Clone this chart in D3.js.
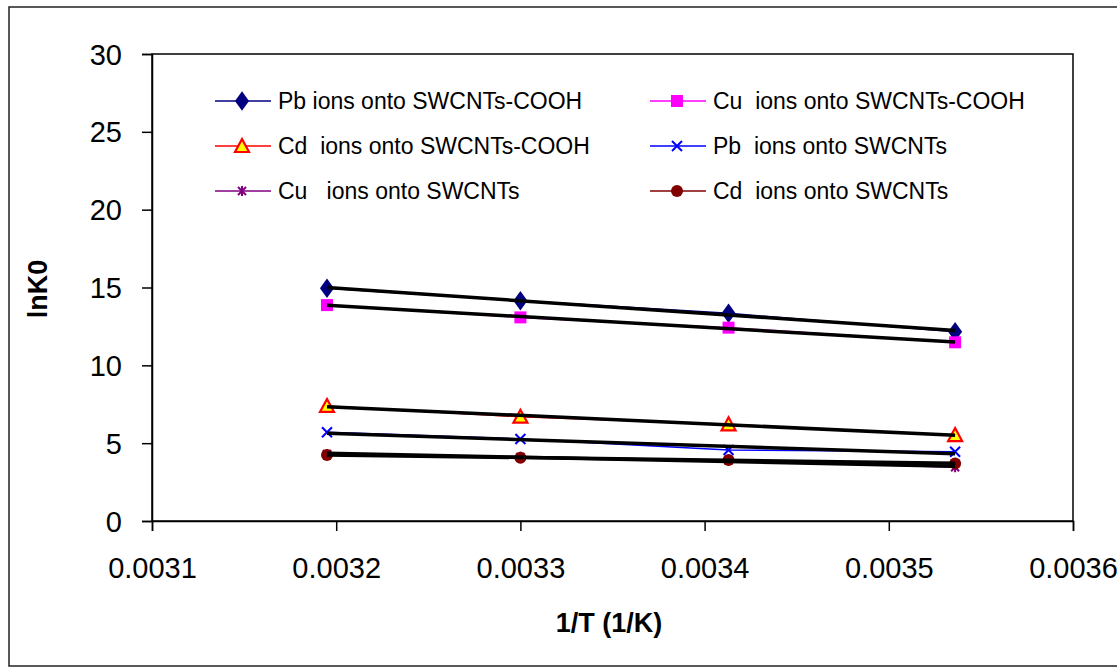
<!DOCTYPE html>
<html>
<head>
<meta charset="utf-8">
<script src="https://d3js.org/d3.v7.min.js"></script>
<style>
    body { margin: 0; background: #fff; }
    text { font-family: "Liberation Sans", Arial, sans-serif; }
</style>
</head>
<body>
<svg id="chart" width="1117" height="667"></svg>
<script>
    // data
    var invT = [0.003195, 0.0033, 0.003413, 0.003536];
    var pbCooh = [14.95, 14.15, 13.34, 12.16];
    var cuCooh = [13.87, 13.08, 12.42, 11.48];
    var cdCooh = [7.39, 6.70, 6.21, 5.52];
    var pbSw = [5.70, 5.27, 4.56, 4.45];
    var cuSw = [4.30, 4.12, 3.90, 3.45];
    var cdSw = [4.24, 4.07, 3.92, 3.70];
    var xTicks = [0.0031, 0.0032, 0.0033, 0.0034, 0.0035, 0.0036];
    var yTicks = [0, 5, 10, 15, 20, 25, 30];

    var series = [
        {name: "Pb ions onto SWCNTs-COOH", values: pbCooh, color: "#000080", marker: "diamond", col: 0, row: 0},
        {name: "Cu  ions onto SWCNTs-COOH", values: cuCooh, color: "#ff00ff", marker: "square", col: 1, row: 0},
        {name: "Cd  ions onto SWCNTs-COOH", values: cdCooh, color: "#ff0000", marker: "triangle", col: 0, row: 1},
        {name: "Pb  ions onto SWCNTs", values: pbSw, color: "#0000ff", marker: "x", col: 1, row: 1},
        {name: "Cu   ions onto SWCNTs", values: cuSw, color: "#800080", marker: "star", col: 0, row: 2},
        {name: "Cd  ions onto SWCNTs", values: cdSw, color: "#800000", marker: "circle", col: 1, row: 2}
    ];

    var svg = d3.select("#chart");
    var margin = {left: 152, top: 54, right: 1073, bottom: 521};

    var x = d3.scaleLinear().domain([0.0031, 0.0036]).range([margin.left, margin.right]);
    var y = d3.scaleLinear().domain([0, 30]).range([margin.bottom, margin.top]);

    // outer chart frame
    svg.append("rect").attr("x", 9).attr("y", 7).attr("width", 1120).attr("height", 659)
        .attr("fill", "none").attr("stroke", "#222").attr("stroke-width", 1.5);

    // plot frame
    svg.append("rect").attr("x", margin.left).attr("y", margin.top)
        .attr("width", margin.right - margin.left).attr("height", margin.bottom - margin.top)
        .attr("fill", "none").attr("stroke", "#000").attr("stroke-width", 1.5);

    var yAxis = svg.append("g")
        .attr("transform", "translate(" + margin.left + ",0)")
        .call(d3.axisLeft(y).tickValues(yTicks).tickSize(10).tickPadding(20).tickFormat(d3.format("d")));
    var xAxis = svg.append("g")
        .attr("transform", "translate(0," + margin.bottom + ")")
        .call(d3.axisBottom(x).tickValues(xTicks).tickSize(10).tickPadding(26).tickFormat(d3.format(".4f")));

    [xAxis, yAxis].forEach(function (a) {
        a.select(".domain").attr("stroke-width", 1.5);
        a.selectAll(".tick line").attr("stroke-width", 1.5);
        a.selectAll("text").attr("font-size", 29).attr("fill", "#000")
            .style("font-family", "'Liberation Sans', Arial, sans-serif");
    });
    yAxis.selectAll("text").attr("dy", "0.35em");
    xAxis.selectAll("text").attr("dy", "0.71em");

    svg.append("text").attr("x", 609).attr("y", 632).attr("text-anchor", "middle")
        .attr("font-size", 27).attr("font-weight", "bold").text("1/T (1/K)");
    svg.append("text").attr("transform", "translate(47,289) rotate(-90)").attr("text-anchor", "middle")
        .attr("font-size", 27).attr("font-weight", "bold").text("lnK0");

    function drawMarker(g, type, color) {
        if (type === "diamond") {
            g.append("path").attr("d", d3.symbol(d3.symbolDiamond, 110)()).attr("fill", color)
                .attr("transform", "scale(1.25,1)");
        } else if (type === "square") {
            g.append("rect").attr("x", -6).attr("y", -6).attr("width", 12).attr("height", 12).attr("fill", color);
        } else if (type === "triangle") {
            g.append("path").attr("d", "M0,-7L7,6L-7,6Z").attr("fill", "#ffff00")
                .attr("stroke", color).attr("stroke-width", 2.2);
        } else if (type === "x") {
            g.append("path").attr("d", "M-5,-5L5,5M-5,5L5,-5").attr("stroke", color).attr("stroke-width", 2);
        } else if (type === "star") {
            g.append("path").attr("d", "M-4,-4L4,4M-4,4L4,-4M0,-5L0,5").attr("stroke", color).attr("stroke-width", 2);
        } else if (type === "circle") {
            g.append("circle").attr("r", 6).attr("fill", color);
        }
    }

    var line = d3.line().x(function (d) { return x(d[0]); }).y(function (d) { return y(d[1]); });

    // series lines
    series.forEach(function (s) {
        var pts = invT.map(function (t, i) { return [t, s.values[i]]; });
        svg.append("path").datum(pts).attr("d", line)
            .attr("fill", "none").attr("stroke", s.color).attr("stroke-width", 1.5);
    });

    // markers
    series.forEach(function (s) {
        invT.forEach(function (t, i) {
            var g = svg.append("g").attr("transform", "translate(" + x(t) + "," + y(s.values[i]) + ")");
            drawMarker(g, s.marker, s.color);
        });
    });

    // linear trend lines (least squares on each series)
    series.forEach(function (s) {
        var n = invT.length;
        var mx = d3.mean(invT), my = d3.mean(s.values);
        var sxy = 0, sxx = 0;
        for (var i = 0; i < n; i++) {
            sxy += (invT[i] - mx) * (s.values[i] - my);
            sxx += (invT[i] - mx) * (invT[i] - mx);
        }
        var b = sxy / sxx, a = my - b * mx;
        var x0 = invT[0], x1 = invT[n - 1];
        svg.append("path").datum([[x0, a + b * x0], [x1, a + b * x1]]).attr("d", line)
            .attr("fill", "none").attr("stroke", "#000").attr("stroke-width", 3.5);
    });

    // legend
    var legX = [215, 650], legY = [101, 146, 191];
    series.forEach(function (s) {
        var lx = legX[s.col], ly = legY[s.row];
        svg.append("line").attr("x1", lx).attr("x2", lx + 56).attr("y1", ly).attr("y2", ly)
            .attr("stroke", s.color).attr("stroke-width", 1.5);
        var g = svg.append("g").attr("transform", "translate(" + (lx + 27) + "," + ly + ")");
        drawMarker(g, s.marker, s.color);
        svg.append("text").attr("x", lx + 63).attr("y", ly).attr("dy", "0.35em")
            .attr("font-size", 23).style("white-space", "pre").attr("xml:space", "preserve").text(s.name);
    });
</script>
</body>
</html>
